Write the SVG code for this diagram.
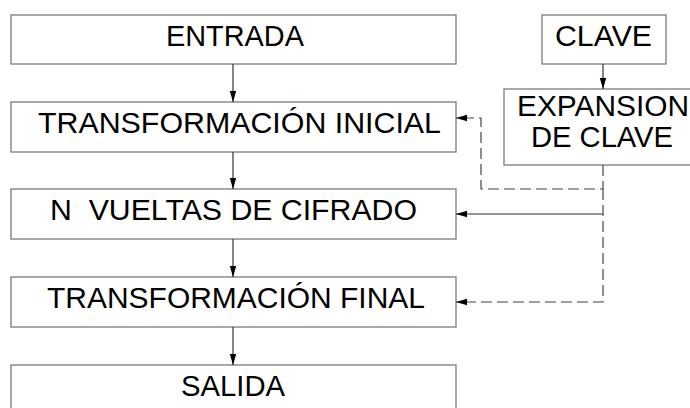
<svg xmlns="http://www.w3.org/2000/svg" width="690" height="408" viewBox="0 0 690 408">
<style>
.box{fill:#fff;stroke:#7a7a7a;stroke-width:1.3}
.t{font-family:"Liberation Sans",Arial,sans-serif;font-size:30px;fill:#000;text-anchor:start;white-space:pre}
.c{fill:none;stroke:#333;stroke-width:1.2}
.d{stroke:#444;stroke-dasharray:11,5}
</style>
<defs>
<marker id="ah" markerWidth="12" markerHeight="8" refX="11" refY="4" orient="auto" markerUnits="userSpaceOnUse">
<path d="M0,0.8 L11,4 L0,7.2 Z" fill="#000"/>
</marker>
</defs>
<rect width="690" height="408" fill="#fff"/>
<g id="entrada"><rect class="box" x="11" y="15" width="445" height="49"/><text class="t" x="166" y="45.5" textLength="138" lengthAdjust="spacingAndGlyphs">ENTRADA</text></g>
<g id="inicial"><rect class="box" x="11" y="102" width="445" height="50"/><text class="t" x="38" y="133" textLength="403" lengthAdjust="spacingAndGlyphs">TRANSFORMACIÓN INICIAL</text></g>
<g id="vueltas"><rect class="box" x="11" y="189" width="445" height="50"/><text class="t" x="50" y="220" textLength="367" lengthAdjust="spacingAndGlyphs">N  VUELTAS DE CIFRADO</text></g>
<g id="final"><rect class="box" x="11" y="277" width="445" height="50"/><text class="t" x="47" y="308" textLength="378" lengthAdjust="spacingAndGlyphs">TRANSFORMACIÓN FINAL</text></g>
<g id="salida"><rect class="box" x="11" y="365" width="445" height="60"/><text class="t" x="181" y="396" textLength="104" lengthAdjust="spacingAndGlyphs">SALIDA</text></g>
<g id="clave"><rect class="box" x="542" y="15" width="124" height="49"/><text class="t" x="555" y="45.5" textLength="97" lengthAdjust="spacingAndGlyphs">CLAVE</text></g>
<g id="expansion"><rect class="box" x="504" y="89" width="200" height="76"/><text class="t" x="517" y="115.5" textLength="172" lengthAdjust="spacingAndGlyphs">EXPANSION</text><text class="t" x="531" y="147" textLength="142" lengthAdjust="spacingAndGlyphs">DE CLAVE</text></g>
<g id="connectors">
<line class="c" x1="233" y1="64" x2="233" y2="102" marker-end="url(#ah)"/>
<line class="c" x1="233" y1="152" x2="233" y2="189" marker-end="url(#ah)"/>
<line class="c" x1="233" y1="239" x2="233" y2="277" marker-end="url(#ah)"/>
<line class="c" x1="233" y1="327" x2="233" y2="365" marker-end="url(#ah)"/>
<line class="c" x1="603" y1="64" x2="603" y2="89" marker-end="url(#ah)"/>
<polyline class="c d" points="603,165 603,189 481,189 481,118 456,118" marker-end="url(#ah)"/>
<polyline class="c" points="603,214 456,214" marker-end="url(#ah)"/>
<polyline class="c d" points="603,189 603,302 456,302" marker-end="url(#ah)"/>
</g>
</svg>
